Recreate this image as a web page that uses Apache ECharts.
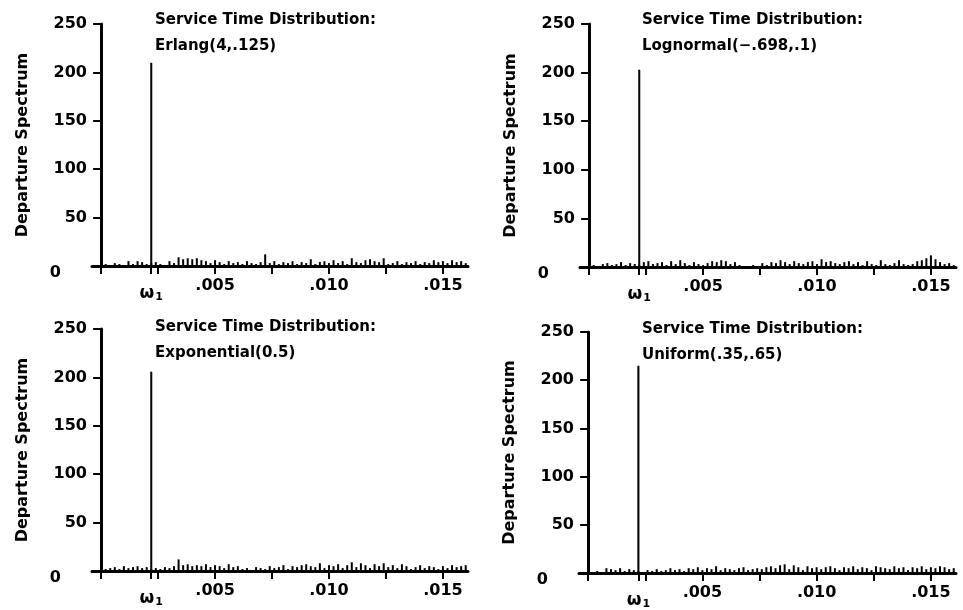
<!DOCTYPE html>
<html><head><meta charset="utf-8">
<script src="https://cdn.jsdelivr.net/npm/echarts@6/dist/echarts.min.js"></script>
<style>html,body{margin:0;padding:0;background:#fff}#c{width:963px;height:610px}</style>
</head><body><div id="c"></div>
<script>
const FONT = 'DejaVu Sans';
const omega1 = 0.0022;
const freqStep = 0.0002;
const xTicks = [0, 0.0025, 0.005, 0.0075, 0.010, 0.0125, 0.015];
const xLabelValues = [0.005, 0.010, 0.015];
const yTickValues = [0, 50, 100, 150, 200, 250];

const titlesText = [
  'Service Time Distribution:\nErlang(4,.125)',
  'Service Time Distribution:\nLognormal(\u2212.698,.1)',
  'Service Time Distribution:\nExponential(0.5)',
  'Service Time Distribution:\nUniform(.35,.65)'
];

const spikeErlang = 210;
const spikeLognormal = 203;
const spikeExponential = 206;
const spikeUniform = 215;

const noiseErlang = [2,1,3,2,1,5,2,5,4,2, 3,4,2,1,5,3,9,7,8,7, 8,6,5,3,6,4,2,5,3,4, 2,5,3,2,4,12,3,5,2,4, 3,5,2,4,3,7,2,4,5,3, 6,3,5,2,8,4,3,6,7,5, 4,8,2,3,5,2,4,3,5,2, 4,3,6,4,5,3,6,4,5,3];
const noiseLognormal = [2,1,3,4,2,3,5,2,4,3, 2,5,6,3,4,5,2,6,3,7, 4,2,5,3,2,4,6,5,7,6, 3,5,2,1,1,2,1,4,2,5, 4,7,5,3,6,4,3,5,6,3, 8,5,6,4,3,5,6,3,5,2, 6,3,2,7,3,2,4,7,3,2, 3,6,7,9,12,8,5,3,4,2];
const noiseExponential = [2,3,4,2,5,3,4,5,3,4, 2,3,2,4,3,5,12,6,7,5, 6,5,7,4,6,5,3,7,4,5, 2,3,1,4,3,2,5,3,4,6, 2,5,4,6,7,5,4,8,3,6, 5,7,3,6,9,4,8,6,3,7, 5,8,4,6,3,7,5,2,4,6, 3,5,4,2,5,3,6,4,5,6];
const noiseUniform = [1,2,1,5,4,3,5,2,4,3, 2,1,3,2,4,2,3,5,3,4, 2,5,4,6,3,5,4,7,3,5, 4,3,5,6,3,4,5,4,6,7, 5,8,9,4,8,6,3,7,5,6, 4,6,7,5,3,6,5,7,4,6, 5,3,7,6,5,4,7,5,6,3, 6,5,7,4,6,5,7,6,4,5];

const spikes = [spikeErlang, spikeLognormal, spikeExponential, spikeUniform];
const noises = [noiseErlang, noiseLognormal, noiseExponential, noiseUniform];

const panels = [
  {left: 92,  top: 24,  width: 376, height: 242, tl: 150, tt: 2},
  {left: 580, top: 24,  width: 376, height: 243, tl: 637, tt: 2},
  {left: 92,  top: 329, width: 376, height: 242, tl: 150, tt: 309},
  {left: 579, top: 332, width: 377, height: 241, tl: 637, tt: 311}
];

const grid = [], xAxis = [], yAxis = [], series = [], title = [];
panels.forEach((p, i) => {
  grid.push({left: p.left, top: p.top, width: p.width, height: p.height});
  title.push({
    text: titlesText[i], left: p.tl, top: p.tt,
    textStyle: {fontFamily: FONT, fontSize: 15, fontWeight: 'bold', color: '#000', lineHeight: 26}
  });
  xAxis.push({
    type: 'value', gridIndex: i, min: -0.0004, max: 0.0161,
    splitLine: {show: false},
    axisLine: {show: true, lineStyle: {color: '#000', width: 3}},
    axisTick: {show: true, customValues: xTicks.concat([omega1]), length: 8, lineStyle: {color: '#000', width: 2}},
    axisLabel: {
      customValues: [omega1].concat(xLabelValues), margin: 12,
      fontFamily: FONT, fontSize: 16, fontWeight: 'bold', color: '#000',
      formatter: v => (Math.abs(v - omega1) < 1e-9) ? '{w|\u03c9}{s|1}' : '.' + String(Math.round(v * 1000)).padStart(3, '0'),
      rich: {
        w: {fontFamily: FONT, fontSize: 17, fontWeight: 'bold', color: '#000', padding: [6, 0, 0, 0]},
        s: {fontFamily: FONT, fontSize: 11, fontWeight: 'bold', color: '#000', padding: [14, 0, 0, 1]}
      }
    }
  });
  yAxis.push({
    type: 'value', gridIndex: i, min: 0, max: 250, interval: 50,
    splitLine: {show: false},
    axisLine: {show: true, onZero: true, lineStyle: {color: '#000', width: 3}},
    axisTick: {show: true, length: 8, lineStyle: {color: '#000', width: 2}},
    axisLabel: {
      margin: 5, fontFamily: FONT, fontSize: 16, fontWeight: 'bold', color: '#000',
      formatter: v => v === 0 ? '{z|0}' : String(v),
      rich: {z: {fontFamily: FONT, fontSize: 16, fontWeight: 'bold', color: '#000', padding: [14, 26, 0, 0]}}
    },
    name: 'Departure Spectrum', nameLocation: 'middle', nameGap: 61,
    nameTextStyle: {fontFamily: FONT, fontSize: 16, fontWeight: 'bold', color: '#000'}
  });
  const data = noises[i].map((v, j) => [(j + 1) * freqStep, v]);
  data.push({value: [omega1, spikes[i]], itemStyle: {borderWidth: 0.6, borderColor: '#000'}});
  series.push({
    type: 'bar', xAxisIndex: i, yAxisIndex: i, barWidth: 2, silent: true,
    itemStyle: {color: '#000'}, data: data
  });
});

const chart = echarts.init(document.getElementById('c'), null, {renderer: 'canvas'});
chart.setOption({backgroundColor: '#fff', animation: false, title, grid, xAxis, yAxis, series});
</script>
</body></html>
